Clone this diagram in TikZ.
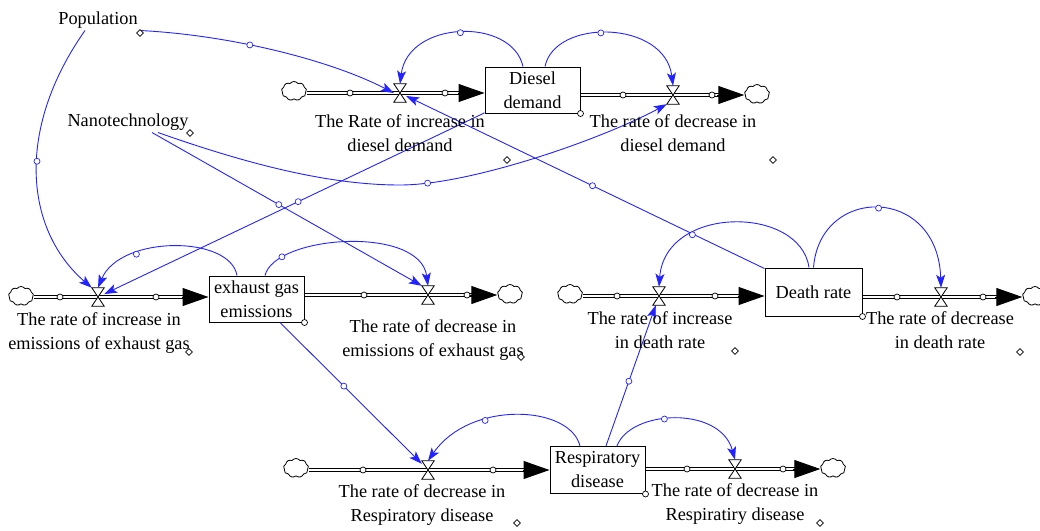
\documentclass[tikz,border=0pt]{standalone}
\usepackage{fontspec}
\setmainfont{Liberation Serif}
\usetikzlibrary{shapes.geometric,shapes.symbols,arrows.meta,calc}
\definecolor{linkblue}{RGB}{35,35,255}
\begin{document}
\begin{tikzpicture}[x=1pt,y=-1pt,
  lbl/.style={font=\fontsize{18.3}{24}\selectfont, align=center, inner sep=0pt},
  stock/.style={draw, line width=1pt, fill=white, minimum width=95pt, minimum height=46pt, inner sep=0pt, align=center, font=\fontsize{18.3}{24}\selectfont},
  valve/.style={minimum width=12pt, minimum height=18pt, inner sep=0pt},
  valvedraw/.style={draw, line width=0.8pt, fill=white, line join=miter},
  cloudn/.style={cloud, draw, line width=0.8pt, fill=white, cloud puffs=9, cloud puff arc=110, aspect=1.35, minimum width=25pt, minimum height=19pt, inner sep=0pt},
  pipe/.style={draw, line width=1.1pt, double=white, double distance=2.6pt},
  pipehead/.style={-{Triangle[length=26pt,width=18pt]}, line width=1pt},
  link/.style={draw=linkblue, line width=0.9pt, -{Stealth[length=13pt,width=9pt,inset=3pt]}},
  lc/.style={circle, draw=linkblue, fill=white, line width=0.7pt, minimum size=6pt, inner sep=0pt},
  pc/.style={circle, draw, fill=white, line width=0.7pt, minimum size=6pt, inner sep=0pt},
  dm/.style={diamond, draw, fill=white, line width=0.7pt, minimum size=7pt, inner sep=0pt}
]
\useasboundingbox (0,0) rectangle (1040,530);

% ---------- stocks ----------
\node[stock] (dd) at (532.5,90) {Diesel\\demand};
\node[stock] (eg) at (256.5,299) {exhaust gas\\emissions};
\node[stock, minimum width=97pt, minimum height=48pt] (dr) at (813.5,292) {Death rate};
\node[stock, minimum height=47pt] (rd) at (597.5,470) {Respiratory\\disease};

% ---------- valves ----------
\node[valve] (vD1) at (400,93) {};
\node[valve] (vD2) at (673,95) {};
\node[valve] (vE1) at (98,297) {};
\node[valve] (vE2) at (428,295) {};
\node[valve] (vDR1) at (659,296) {};
\node[valve] (vDR2) at (941,297) {};
\node[valve] (vR1) at (428,470) {};
\node[valve] (vR2) at (735,469) {};

% ---------- clouds ----------
\node[cloudn] (cD1) at (294,91) {};
\node[cloudn] (cD2) at (757,94) {};
\node[cloudn] (cE1) at (21,296) {};
\node[cloudn] (cE2) at (510,294) {};
\node[cloudn] (cDR1) at (570,294) {};
\node[cloudn] (cDR2) at (1035,296) {};
\node[cloudn] (cR1) at (296,468) {};
\node[cloudn] (cR2) at (833,468) {};

% ---------- pipes ----------
\foreach \c/\v/\s in {cD1/vD1/dd, cE1/vE1/eg, cDR1/vDR1/dr, cR1/vR1/rd}{
  \draw[pipe] (\c.east |- \v) -- ($(\s.west |- \v)+(-20,0)$);
  \draw[pipehead] ($(\s.west |- \v)+(-27,0)$) -- (\s.west |- \v);
}
\foreach \s/\v/\c in {dd/vD2/cD2, eg/vE2/cE2, dr/vDR2/cDR2, rd/vR2/cR2}{
  \draw[pipe] (\s.east |- \v) -- ($(\c.west |- \v)+(-20,0)$);
  \draw[pipehead] ($(\c.west |- \v)+(-27,0)$) -- (\c.west |- \v);
}
% small circles on pipes
\foreach \x/\y in {350/93, 445/93, 623/95, 712/95,
                   60/297, 156/297, 364/295, 467/295,
                   617/296, 715/296, 897/297, 983/297,
                   363/470, 493/470, 687/469, 783/469}{
  \node[pc] at (\x,\y) {};
}

% ---------- auxiliaries ----------
\node[lbl, inner sep=2pt] (pop) at (98,20) {Population};
\node[lbl, inner sep=2pt] (nano) at (128,122) {Nanotechnology};

% ---------- links ----------
\draw[link] ([xshift=-9.5pt]dd.north) .. controls (512,17) and (408,20) .. (vD1.north) node[lc,pos=.5]{};
\draw[link] ([xshift=12.5pt]dd.north) .. controls (555,18) and (665,20) .. (vD2.north) node[lc,pos=.45]{};
\draw[link] (pop.south east) .. controls (230,35) and (330,60) .. (vD1.west) node[lc,pos=.4]{};
\draw[link] ([xshift=-13pt]pop.south) .. controls (15,130) and (25,230) .. (vE1.north west) node[lc,pos=.45]{};
\draw[link] ([xshift=30pt]nano.south) .. controls (250,165) and (330,185) .. (400,185)
   .. controls (470,185) and (600,140) .. (vD2.south west) node[lc,pos=.12]{};
\draw[link] ([xshift=24pt]nano.south) -- (vE2.north west) node[lc,pos=.47]{};
\draw[link] (dd) -- (vE1) node[lc,pos=.49]{};
\draw[link] (dr) -- (vD1) node[lc,pos=.48]{};
\draw[link] ([xshift=-4.5pt]dr.north) .. controls (800,205) and (665,205) .. (vDR1.north) node[lc,pos=.7]{};
\draw[link] (dr.north) .. controls (820,185) and (938,185) .. (vDR2.north) node[lc,pos=.5]{};
\draw[link] ([xshift=-19.5pt]eg.north) .. controls (230,235) and (120,235) .. (vE1.north) node[lc,pos=.7]{};
\draw[link] ([xshift=8.5pt]eg.north) .. controls (275,235) and (420,225) .. (vE2.north) node[lc,pos=.18]{};
\draw[link] (eg) -- (vR1) node[lc,pos=.45]{};
\draw[link] ([xshift=-17.5pt]rd.north) .. controls (570,405) and (470,400) .. (vR1.north) node[lc,pos=.66]{};
\draw[link] ([xshift=19.5pt]rd.north) .. controls (630,410) and (720,405) .. (vR2.north) node[lc,pos=.43]{};
\draw[link] (rd) -- (vDR1) node[lc,pos=.46]{};

% valve glyphs
\foreach \v in {vD1,vD2,vE1,vE2,vDR1,vDR2,vR1,vR2}{
  \draw[valvedraw] (\v.north west) -- (\v.north east) -- (\v.south west) -- (\v.south east) -- cycle;
}

% ---------- flow labels ----------
\node[lbl] (lD1) at (400,133) {The Rate of increase in\\diesel demand};
\node[lbl] (lD2) at (673,133) {The rate of decrease in\\diesel demand};
\node[lbl] (lE1) at (99,333) {The rate of increase in\\emissions of exhaust gas};
\node[lbl] (lE2) at (433,340) {The rate of decrease in\\emissions of exhaust gas};
\node[lbl] (lDR1) at (660,330) {The rate of increase\\in death rate};
\node[lbl] (lDR2) at (940,330) {The rate of decrease\\in death rate};
\node[lbl] (lR1) at (422,505) {The rate of decrease in\\Respiratory disease};
\node[lbl] (lR2) at (735,504) {The rate of decrease in\\Respiratiry disease};

% ---------- markers ----------
\foreach \x/\y in {140/33, 190/133, 507/160, 773/160, 189/352, 521/357, 735/351, 1020/352, 517/523, 820/523}{
  \node[dm] at (\x,\y) {};
}
\foreach \s in {dd,eg,dr,rd}{
  \node[pc] at (\s.south east) {};
}
\end{tikzpicture}
\end{document}
